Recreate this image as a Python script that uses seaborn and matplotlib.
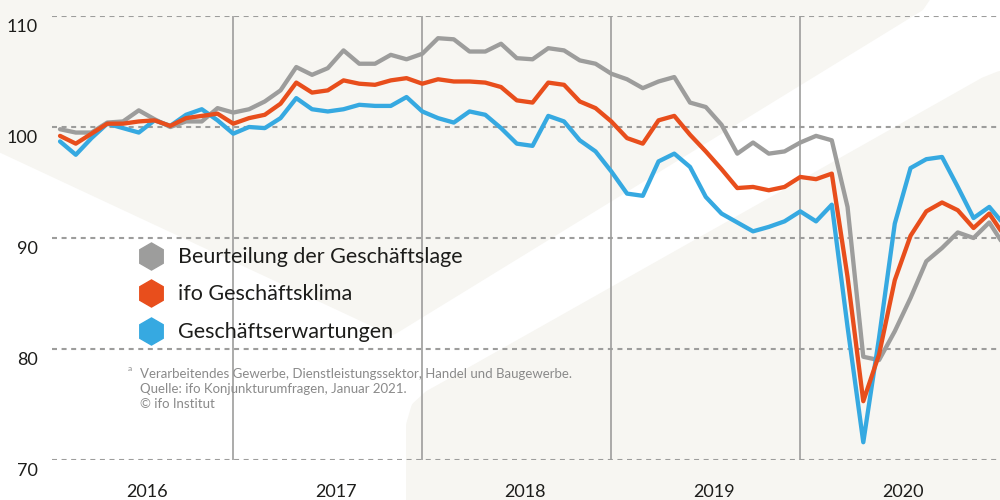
import numpy as np
import pandas as pd
import matplotlib
matplotlib.use("Agg")
import matplotlib.pyplot as plt
import seaborn as sns
from matplotlib.patches import Polygon
from matplotlib.lines import Line2D
from matplotlib.transforms import ScaledTranslation

# ifo Geschäftsklima Deutschland, Jan 2016 - Jan 2021 (2015 = 100), monatlich
lage = [99.8, 99.5, 99.5, 100.4, 100.5, 101.5, 100.7, 100.0, 100.5, 100.5, 101.7, 101.3,
        101.6, 102.3, 103.3, 105.4, 104.7, 105.3, 106.9, 105.7, 105.7, 106.5, 106.1, 106.6,
        108.0, 107.9, 106.8, 106.8, 107.5, 106.2, 106.1, 107.1, 106.9, 106.0, 105.7, 104.8,
        104.3, 103.5, 104.1, 104.5, 102.2, 101.8, 100.2, 97.6, 98.6, 97.6, 97.8, 98.6,
        99.2, 98.8, 92.8, 79.3, 79.0, 81.6, 84.6, 87.9, 89.1, 90.5, 90.0, 91.4,
        89.2]
klima = [99.2, 98.5, 99.4, 100.3, 100.3, 100.5, 100.6, 100.1, 100.8, 101.0, 101.2, 100.3,
         100.8, 101.1, 102.1, 104.0, 103.1, 103.3, 104.2, 103.9, 103.8, 104.2, 104.4, 103.9,
         104.3, 104.1, 104.1, 104.0, 103.6, 102.4, 102.2, 104.0, 103.8, 102.3, 101.7, 100.5,
         99.0, 98.5, 100.6, 101.0, 99.3, 97.8, 96.2, 94.5, 94.6, 94.3, 94.6, 95.5,
         95.3, 95.8, 86.5, 75.3, 79.5, 86.2, 90.2, 92.4, 93.2, 92.5, 90.9, 92.2,
         90.1]
erwartungen = [98.7, 97.5, 99.0, 100.3, 99.9, 99.5, 100.6, 100.1, 101.1, 101.6, 100.6, 99.4,
               100.0, 99.9, 100.8, 102.6, 101.6, 101.4, 101.6, 102.0, 101.9, 101.9, 102.7, 101.4,
               100.8, 100.4, 101.4, 101.1, 99.9, 98.5, 98.3, 101.0, 100.5, 98.8, 97.8, 96.0,
               94.0, 93.8, 96.9, 97.6, 96.4, 93.7, 92.2, 91.4, 90.6, 91.0, 91.5, 92.4,
               91.5, 93.0, 82.0, 71.6, 81.0, 91.3, 96.3, 97.1, 97.3, 94.6, 91.8, 92.8,
               91.1]
jahre = ["2016", "2017", "2018", "2019", "2020"]
yticks = [70, 80, 90, 100, 110]

serien = ["Beurteilung der Geschäftslage", "ifo Geschäftsklima", "Geschäftserwartungen"]
farben = {"Beurteilung der Geschäftslage": "#9d9d9c",
          "ifo Geschäftsklima": "#e84e1c",
          "Geschäftserwartungen": "#36a9e1"}

monat = np.arange(len(lage))
df = pd.concat([
    pd.DataFrame({"monat": monat, "wert": lage, "serie": serien[0]}),
    pd.DataFrame({"monat": monat, "wert": erwartungen, "serie": serien[2]}),
    pd.DataFrame({"monat": monat, "wert": klima, "serie": serien[1]}),
])

sns.set_theme(style="white")
plt.rcParams["font.family"] = ["Lato", "DejaVu Sans"]

fig = plt.figure(figsize=(10, 5), dpi=100)
fig.patch.set_facecolor("white")

beige = "#f7f6f2"


def px(pts):
    return [(x / 1000, 1 - y / 500) for x, y in pts]


# Hintergrundformen
oben = Polygon(px([(-20, -20), (935, -20), (918, 5), (392, 328), (0, 145), (-20, 145)]),
               closed=True, transform=fig.transFigure, facecolor=beige, edgecolor=beige,
               linewidth=10, joinstyle="round", zorder=-10)
unten = Polygon(px([(413, 520), (413, 425), (418, 408), (430, 397), (448, 387), (985, 84),
                    (1000, 78), (1020, 76), (1020, 520)]),
                closed=True, transform=fig.transFigure, facecolor=beige, edgecolor=beige,
                linewidth=10, joinstyle="round", zorder=-10)
fig.patches.extend([oben, unten])

ax = fig.add_axes([0.052, 0.08, 0.948, 0.888])
ax.set_facecolor("none")
ax.set_zorder(1)

ax.vlines([11, 23, 35, 47], 70, 110, color="#9d9d9c", linewidth=1.2, zorder=1)

sns.lineplot(data=df, x="monat", y="wert", hue="serie", palette=farben,
             linewidth=3.1, legend=False, ax=ax, zorder=3)

ax.set_xlim(-0.51, 59.68)
ax.set_ylim(70, 110)
for s in ax.spines.values():
    s.set_visible(False)

ax.set_yticks(yticks)
ax.set_yticklabels([str(t) for t in yticks])
ax.grid(axis="y", color="#9d9d9c", linewidth=1.5, linestyle=(0, (2.4, 2.2)), zorder=1)
ax.grid(axis="x", visible=False)
ax.set_axisbelow(True)
ax.tick_params(axis="y", length=0, pad=10, labelsize=13, labelcolor="#1d1d1b")
ax.tick_params(axis="x", length=0, pad=0, labelsize=13, labelcolor="#1d1d1b")

ax.set_xticks([5.5 + 12 * i for i in range(len(jahre))])
ax.set_xticklabels(jahre)
ax.set_xlabel("")
ax.set_ylabel("")

for lbl in ax.get_yticklabels():
    lbl.set_verticalalignment("baseline")
    lbl.set_transform(lbl.get_transform() + ScaledTranslation(0, -16 / 100, fig.dpi_scale_trans))
for lbl in ax.get_xticklabels():
    lbl.set_verticalalignment("baseline")
    lbl.set_transform(lbl.get_transform() + ScaledTranslation(0, -37 / 100, fig.dpi_scale_trans))

# Legende
for name, y in zip(serien, [256, 293, 331]):
    fig.add_artist(Line2D([151 / 1000], [1 - y / 500], marker="h", markersize=19.5,
                          color=farben[name], linestyle="none", transform=fig.transFigure,
                          zorder=5))
    fig.text(178 / 1000, 1 - (y + 7) / 500, name, fontsize=15.5, color="#1d1d1b",
             va="baseline", zorder=5)

# Fußnote
fig.text(128 / 1000, 1 - 371 / 500, "a", fontsize=6, color="#8a8a8a", va="baseline", zorder=5)
fussnote = ["Verarbeitendes Gewerbe, Dienstleistungssektor, Handel und Baugewerbe.",
            "Quelle: ifo Konjunkturumfragen, Januar 2021.",
            "© ifo Institut"]
for i, zeile in enumerate(fussnote):
    fig.text(140 / 1000, 1 - (378 + 15 * i) / 500, zeile, fontsize=9.5, color="#8a8a8a",
             va="baseline", zorder=5)

fig.savefig("out.png", dpi=100)
